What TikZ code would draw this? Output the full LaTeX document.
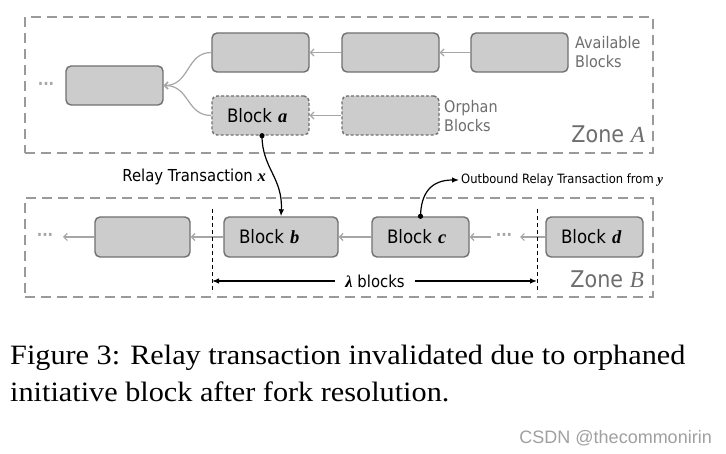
\documentclass[tikz,border=0pt]{standalone}
\usepackage{fontspec}
\setmainfont{DejaVu Sans}[FakeStretch=0.9]
\newfontfamily\dvs{DejaVu Sans}[FakeStretch=0.9]
\newfontfamily\tms{Liberation Serif}
\newfontfamily\capfont{Liberation Serif}[FakeStretch=1.08]
\newfontfamily\wmfont{Liberation Sans}
\usetikzlibrary{arrows.meta}
\newcommand{\mv}[1]{{\tms\bfseries\itshape #1}}
\newcommand{\myfs}[2]{\fontsize{#1pt}{#2pt}\selectfont}
\definecolor{zonec}{HTML}{9A9A9A}
\definecolor{blkfill}{HTML}{CCCCCC}
\definecolor{blkdraw}{HTML}{707070}
\definecolor{arrc}{HTML}{A6A6A6}
\definecolor{labc}{HTML}{6E6E6E}
\definecolor{wmc}{HTML}{A0A0A0}
\tikzset{
  zone/.style={draw=zonec, line width=2.6pt, dash pattern=on 10pt off 6pt, rectangle, inner sep=0pt},
  blk/.style={rectangle, rounded corners=5pt, fill=blkfill, draw=blkdraw, line width=1.4pt,
    inner xsep=15pt, inner ysep=0pt, minimum height=39pt, text width=67pt, align=left,
    font=\dvs\myfs{18.5}{20}},
  orph/.style={dash pattern=on 3pt off 2pt},
  garr/.style={draw=arrc, line width=1.2pt, -{Straight Barb[length=3.5pt,width=7pt]}},
  barr/.style={draw=black, line width=1.2pt, -{Latex[length=7pt,width=5.5pt]}},
  vdash/.style={draw=black, line width=1pt, dash pattern=on 4pt off 3pt},
  lab/.style={inner sep=0pt, align=left, text=labc, font=\dvs\myfs{16}{19}},
  zonelab/.style={inner sep=0pt, text=labc, font=\dvs\myfs{23}{25}},
  dotsty/.style={inner sep=0pt, text=arrc, font=\dvs\bfseries\myfs{16}{18}},
  txt/.style={inner sep=0pt, text=black, font=\dvs\myfs{16.5}{18}},
  captext/.style={inner sep=0pt, text=black, font=\capfont\myfs{28}{37}}
}
\begin{document}
\begin{tikzpicture}[x=1pt,y=-1pt]
\fill[white] (0,0) rectangle (726,454);
\useasboundingbox (0,0) rectangle (726,454);

% zones
\node[zone, minimum width=628pt, minimum height=136pt] (zoneA) at (339,85) {};
\node[zone, minimum width=628pt, minimum height=99pt] (zoneB) at (339,247.5) {};

% zone A blocks
\node[blk] (A1) at (114.5,85.5) {};
\node[blk] (A2) at (260.5,52.5) {};
\node[blk] (A3) at (390.5,52.5) {};
\node[blk] (A4) at (519.5,52.5) {};
\node[blk, orph] (Ba) at (260.5,115.5) {Block \mv{a}};
\node[blk, orph] (O2) at (390.5,115.5) {};

\node[lab, anchor=west] (avail) at (575,52.5) {Available\\Blocks};
\node[lab, anchor=west] (orphl) at (444,116) {Orphan\\Blocks};
\node[zonelab, anchor=base east] (zA) at (645,143) {Zone {\tms\itshape A}};
\node[dotsty] (dA) at (46,86) {···};

\draw[garr] (A4.west) -- (A3.east);
\draw[garr] (A3.west) -- (A2.east);
\draw[garr] (O2.west) -- (Ba.east);
\draw[garr] (A2.west) .. controls (186,52.5) and (190,85.5) .. (A1.east);
\draw[garr] (Ba.west) .. controls (186,115.5) and (190,85.5) .. (A1.east);

% zone B blocks
\node[blk, text width=65pt, minimum height=40pt] (B1) at (142.5,237) {};
\node[blk, text width=84pt, minimum height=40pt] (Bb) at (281,237) {Block \mv{b}};
\node[blk, minimum height=40pt] (Bc) at (420.5,237) {Block \mv{c}};
\node[blk, minimum height=40pt] (Bd) at (594.5,237) {Block \mv{d}};
\node[dotsty] (dB1) at (45,237) {···};
\node[dotsty] (dB2) at (504,237) {···};
\coordinate (t1) at (63,237);
\coordinate (t2) at (520,237);
\coordinate (t3) at (491,237);
\draw[garr] (B1.west) -- (t1);
\draw[garr] (Bb.west) -- (B1.east);
\draw[garr] (Bc.west) -- (Bb.east);
\draw[garr] (t3) -- (Bc.east);
\draw[garr] (Bd.west) -- (t2);
\node[zonelab, anchor=base east] (zB) at (644,288) {Zone {\tms\itshape B}};

% lambda span
\coordinate (v1t) at (212,209);
\coordinate (v1b) at (212,293);
\coordinate (v2t) at (537,209);
\coordinate (v2b) at (537,293);
\draw[vdash] (v1t) -- (v1b);
\draw[vdash] (v2t) -- (v2b);
\node[txt, inner xsep=10pt] (lam) at (375,281) {\mv{λ} blocks};
\draw[barr] (lam.west) -- (v1t |- lam.west);
\draw[barr] (lam.east) -- (v2t |- lam.east);

% relay transaction x
\coordinate (sa) at ([xshift=1.5pt]Ba.south);
\node[txt, anchor=east] (rtx) at (266,177) {Relay Transaction \mv{x}};
\draw[barr] (sa) .. controls (262,168) and (283,178) .. (Bb.north);
\fill (sa) circle[radius=2.6pt];

% outbound
\node[txt, anchor=west, font=\dvs\myfs{12.8}{14}] (outl) at (461,180) {Outbound Relay Transaction from \mv{y}};
\draw[barr] (Bc.north) .. controls (421,192) and (432,180) .. ([xshift=-2pt]outl.west);
\fill (Bc.north) circle[radius=2.6pt];

% caption
\node[captext, anchor=base west] (cap1) at (10,365) {Figure 3: Relay transaction invalidated due to orphaned};
\node[captext, anchor=base west] (cap2) at (10,402) {initiative block after fork resolution.};
\node[anchor=base east, inner sep=0pt, text=wmc, font=\wmfont\myfs{18}{20}] (wm) at (712,443) {CSDN @thecommonirin};
\end{tikzpicture}
\end{document}
